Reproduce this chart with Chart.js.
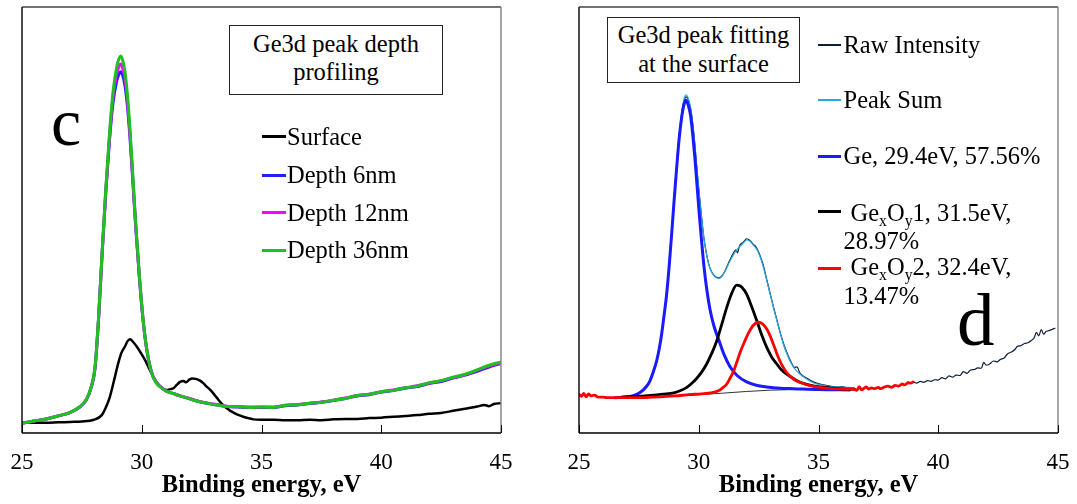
<!DOCTYPE html>
<html>
<head>
<meta charset="utf-8">
<script src="https://cdn.jsdelivr.net/npm/chart.js@4.4.1/dist/chart.umd.min.js"></script>
<style>
  html, body { margin:0; padding:0; background:#fff; }
  #wrap { position:relative; width:1077px; height:504px; overflow:hidden; background:#fff; }
  canvas { position:absolute; top:0; }
  .t { position:absolute; font-family:"Liberation Serif","Times New Roman",serif; color:#000; line-height:1; white-space:nowrap; }
  .box { position:absolute; border:1px solid #222; box-sizing:border-box; background:#fff; }
  .sw { position:absolute; height:0; }
  .sb { font-size:0.64em; position:relative; top:0.32em; }
</style>
</head>
<body>
<div id="wrap">
  <canvas id="cL" width="540" height="504" style="left:0px;width:540px;height:504px"></canvas>
  <canvas id="cR" width="537" height="504" style="left:540px;width:537px;height:504px"></canvas>
</div>
<script>
// ---------------- DATA ----------------
const X_TICKS = [25, 30, 35, 40, 45];

// Panel c: depth profiling
const E_DEPTH = [25.0,25.5,26.0,26.5,27.0,27.4,27.7,27.9,28.05,28.2,28.35,28.5,28.65,28.8,28.95,29.05,29.12,29.2,29.3,29.4,29.5,29.6,29.75,29.9,30.05,30.2,30.4,30.6,30.8,31.0,31.3,31.6,32.0,32.5,33.0,33.5,34.0,34.5,35.0,35.5,36.0,36.5,37.0,37.5,38.0,38.5,39.0,39.5,40.0,40.5,41.0,41.5,42.0,42.5,43.0,43.5,44.0,44.5,45.0];
const DEPTH_36 = [2.3,2.8,3.3,4.0,4.8,6.1,8.0,11.0,15.5,27.5,43.0,57.5,70.0,80.0,85.8,87.9,88.5,87.6,84.8,79.5,72.0,63.0,49.0,37.0,27.0,20.0,14.3,11.8,10.7,9.9,9.3,8.7,8.0,7.2,6.7,6.3,6.2,6.0,6.1,6.0,6.5,6.6,7.0,7.2,7.7,8.1,8.8,9.1,9.7,10.0,10.6,11.0,11.8,12.3,13.1,13.8,14.8,15.9,16.7];
const DEPTH_12 = [2.3,2.8,3.3,4.0,4.8,6.1,8.0,11.0,15.4,27.2,42.7,57.0,69.2,79.0,84.2,86.1,86.6,85.8,83.2,78.2,71.0,62.3,48.6,36.8,26.9,20.0,14.4,11.9,10.8,9.9,9.3,8.7,8.1,7.3,6.8,6.3,6.2,6.1,6.1,6.1,6.5,6.7,7.0,7.3,7.7,8.2,8.8,9.1,9.7,10.1,10.6,11.1,11.7,12.3,13.0,13.7,14.7,15.7,16.5];
const DEPTH_6  = [2.3,2.8,3.3,4.0,4.8,6.0,7.9,10.9,15.2,27.0,42.5,56.5,68.5,77.5,82.5,84.3,84.8,84.0,81.5,76.8,70.0,61.5,48.2,36.6,26.8,19.9,14.4,11.9,10.8,9.9,9.3,8.7,8.0,7.2,6.7,6.3,6.1,6.0,6.0,6.0,6.4,6.6,6.9,7.2,7.6,8.1,8.7,9.0,9.6,10.0,10.5,10.9,11.6,12.1,12.9,13.6,14.5,15.5,16.3];
const E_SURF = [25.0,25.5,26.0,26.5,27.0,27.5,28.0,28.33,28.5,28.67,28.85,29.02,29.15,29.3,29.4,29.51,29.65,29.79,29.95,30.14,30.3,30.48,30.62,30.76,30.9,31.04,31.2,31.32,31.46,31.6,31.75,31.85,32.0,32.12,32.25,32.43,32.57,32.71,32.85,32.99,33.13,33.27,33.41,33.55,33.7,33.83,34.0,34.24,34.45,34.66,35.0,35.5,36.0,36.5,37.0,37.5,38.0,38.5,39.0,39.5,40.0,40.5,41.0,41.5,42.0,42.5,43.0,43.5,44.0,44.3,44.5,44.7,45.0];
const SURFACE = [2.4,2.4,2.4,2.5,2.6,2.7,3.1,4.2,6.0,8.5,12.5,16.4,18.8,20.3,21.5,22.0,21.3,20.3,18.9,17.1,15.2,13.2,11.9,10.9,10.3,10.1,10.3,10.5,11.3,12.0,12.2,11.9,12.6,12.8,12.7,12.3,11.7,10.9,10.2,9.3,8.3,7.3,6.5,5.8,5.2,4.8,4.3,3.8,3.5,3.2,3.1,3.1,3.0,3.0,3.1,3.0,3.2,3.3,3.3,3.5,3.6,3.8,4.0,4.2,4.5,4.7,5.2,5.7,6.2,6.6,6.3,6.8,7.0];

// Panel d: peak fitting at the surface
const E_RAW = [25.0,25.1,25.2,25.3,25.4,25.5,25.65,25.8,26.0,26.2,26.4,26.6,26.8,27.0,27.3,27.55,27.8,27.96,28.1,28.24,28.35,28.45,28.55,28.66,28.77,28.87,28.97,29.08,29.18,29.29,29.38,29.47,29.56,29.66,29.75,29.84,29.93,30.02,30.12,30.22,30.34,30.47,30.64,30.82,30.96,31.1,31.3,31.45,31.55,31.62,31.7,31.86,32.0,32.14,32.28,32.4,32.49,32.6,32.7,32.84,32.98,33.12,33.26,33.4,33.53,33.67,33.81,34.0,34.1,34.23,34.5,34.78,35.1,35.48,35.8,36.0,36.18,36.4,36.5,36.6,36.7,36.8,36.9,37.0,37.1,37.2,37.35,37.5,37.6,37.75,37.9,38.05,38.2,38.35,38.5,38.6,38.75,38.85,38.95,39.1,39.25,39.4,39.55,39.7,39.85,40.0,40.15,40.3,40.45,40.6,40.75,40.9,41.05,41.2,41.35,41.5,41.65,41.8,41.9,42.0,42.15,42.3,42.45,42.6,42.75,42.9,43.05,43.2,43.3,43.45,43.6,43.75,43.9,44.0,44.1,44.2,44.3,44.4,44.5,44.6,44.75,44.87];
const RAW = [9.1,8.6,9.3,8.5,9.2,8.7,8.9,8.4,8.4,8.1,8.3,8.3,8.4,8.5,8.9,9.6,11.0,12.4,14.5,17.0,19.9,23.3,27.7,32.9,39.8,47.1,55.0,63.1,69.8,75.0,77.9,78.9,78.3,76.2,72.6,67.6,61.6,56.2,50.6,45.6,41.6,38.7,37.0,36.4,36.8,38.1,40.6,42.3,43.0,42.3,43.9,44.8,45.6,45.2,44.3,43.6,42.6,41.0,39.3,36.0,32.8,29.6,26.6,23.6,21.2,19.0,17.2,15.4,15.5,14.0,12.9,12.0,11.4,11.0,10.8,10.9,10.6,10.5,10.3,10.0,10.9,10.1,10.5,10.8,10.3,10.6,10.4,10.7,10.4,10.8,11.0,10.7,11.2,11.0,11.5,11.3,11.8,11.7,12.0,11.7,12.1,11.9,12.3,12.1,12.5,12.4,13.0,12.7,13.4,13.1,13.6,13.5,14.4,14.0,14.8,14.9,15.3,15.2,16.6,15.9,16.2,16.9,16.7,17.3,17.6,18.6,19.0,19.6,20.3,20.5,21.0,21.2,21.8,22.3,23.6,22.8,24.3,23.2,23.8,24.0,24.3,24.6];
const E_SUM = [26.5,27.0,27.3,27.55,27.8,27.96,28.1,28.24,28.35,28.45,28.55,28.66,28.77,28.87,28.97,29.08,29.18,29.29,29.38,29.47,29.56,29.66,29.75,29.84,29.93,30.02,30.12,30.22,30.34,30.47,30.64,30.82,30.96,31.1,31.3,31.45,31.58,31.72,31.86,32.0,32.14,32.28,32.4,32.49,32.6,32.7,32.84,32.98,33.12,33.26,33.4,33.53,33.67,33.81,34.0,34.23,34.5,34.78,35.1,35.48,35.8,36.18,36.5];
const PEAK_SUM = [8.3,8.5,8.9,9.6,11.0,12.4,14.5,17.1,20.0,23.4,27.8,33.0,40.0,47.3,55.2,63.3,70.0,75.3,78.3,79.4,78.6,76.2,72.5,67.5,61.5,56.0,50.5,45.5,41.5,38.6,36.9,36.3,36.7,38.0,40.3,41.8,42.9,43.8,44.6,45.3,45.0,44.1,43.3,42.4,40.8,38.9,35.8,32.6,29.4,26.4,23.5,20.9,18.7,16.9,15.1,13.8,12.7,11.8,11.3,10.9,10.8,10.7,10.6];
const E_GE = [26.5,27.0,27.3,27.55,27.8,27.96,28.1,28.24,28.35,28.45,28.55,28.66,28.77,28.87,28.97,29.08,29.18,29.29,29.38,29.47,29.56,29.66,29.75,29.84,29.93,30.02,30.12,30.22,30.34,30.47,30.64,30.86,31.05,31.3,31.6,32.0,32.4,32.84,33.4,33.95,35.0,36.3];
const GE_FIT = [8.3,8.4,8.8,9.5,10.8,12.2,14.3,16.9,19.8,23.2,27.5,32.6,39.5,46.8,54.5,62.4,69.0,74.2,77.0,78.1,77.0,74.5,70.0,64.5,58.0,51.5,45.0,39.0,33.5,29.0,25.0,21.5,18.5,15.6,13.5,12.0,11.2,10.8,10.5,10.4,10.2,10.1];
const E_OX1 = [26.8,27.5,28.0,28.5,29.0,29.22,29.5,29.7,29.91,30.12,30.33,30.55,30.75,30.96,31.17,31.37,31.58,31.7,31.8,32.0,32.2,32.42,32.63,32.84,33.05,33.26,33.46,33.67,34.0,34.23,34.6,35.06,35.6,36.18,36.5];
const OX1_FIT = [8.5,8.6,8.8,9.1,9.5,9.9,10.7,11.6,12.8,14.3,16.2,18.8,21.6,25.5,29.5,32.7,34.7,34.6,34.2,32.6,29.8,26.4,23.0,20.1,17.8,16.2,14.8,13.8,12.6,11.9,11.3,10.8,10.5,10.3,10.3];
const E_OX2 = [25.0,25.1,25.2,25.3,25.4,25.5,25.65,25.8,26.0,26.22,27.0,27.62,28.3,29.0,29.6,30.12,30.5,30.82,31.0,31.17,31.3,31.44,31.58,31.72,31.9,32.07,32.28,32.49,32.66,32.84,32.98,33.11,33.25,33.39,33.53,33.67,33.88,34.09,34.37,34.65,35.06,35.48,36.0,36.45,36.6,36.7,36.8,36.9,37.0,37.1,37.2,37.35,37.5,37.6,37.75,37.9,38.05,38.2,38.35,38.5,38.6,38.75,38.85,38.95];
const OX2_FIT = [9.1,8.6,9.3,8.5,9.2,8.7,8.9,8.4,8.4,8.3,8.3,8.3,8.5,8.7,9.0,9.2,9.4,9.9,10.6,11.5,12.8,14.3,16.5,18.8,21.3,23.4,25.3,26.0,25.6,24.4,22.8,20.9,18.8,16.9,15.4,14.2,13.0,12.2,11.6,11.1,10.7,10.4,10.3,10.3,10.0,10.9,10.1,10.5,10.8,10.3,10.6,10.4,10.7,10.4,10.8,11.0,10.7,11.2,11.0,11.5,11.3,11.8,11.7,12.0];
const E_BG = [26.1,27.0,28.0,29.0,30.0,31.0,32.0,33.0,34.0,35.0,36.5];
const BACKGROUND = [8.2,8.3,8.45,8.7,9.0,9.35,9.75,10.05,10.2,10.25,10.3];

// ---------------- HELPERS ----------------
const pts = (xs, ys) => xs.map((x, i) => ({ x, y: ys[i] }));
const SERIF = "'Liberation Serif','Times New Roman',serif";

const framePlugin = {
  id: 'frame',
  afterDatasetsDraw(chart) {
    const { ctx, chartArea: a, scales } = chart;
    ctx.save();
    ctx.lineWidth = 1.5;
    ctx.strokeStyle = '#444';
    ctx.beginPath(); ctx.moveTo(a.left, a.top); ctx.lineTo(a.right, a.top); ctx.stroke();
    ctx.strokeStyle = '#888';
    ctx.beginPath(); ctx.moveTo(a.right, a.top); ctx.lineTo(a.right, a.bottom); ctx.stroke();
    ctx.strokeStyle = '#111';
    ctx.beginPath(); ctx.moveTo(a.left, a.top); ctx.lineTo(a.left, a.bottom); ctx.stroke();
    ctx.strokeStyle = '#000';
    ctx.beginPath(); ctx.moveTo(a.left, a.bottom); ctx.lineTo(a.right, a.bottom); ctx.stroke();
    ctx.lineWidth = 1;
    X_TICKS.forEach(v => {
      const px = Math.round(scales.x.getPixelForValue(v)) + 0.5;
      ctx.beginPath(); ctx.moveTo(px, a.bottom); ctx.lineTo(px, a.bottom - 8); ctx.stroke();
    });
    ctx.restore();
  }
};

function makeChart(id, datasets, padding) {
  return new Chart(document.getElementById(id), {
    type: 'line',
    data: { datasets },
    options: {
      animation: false, responsive: false, devicePixelRatio: 1, events: [],
      layout: { padding },
      plugins: { legend: { display: false }, tooltip: { enabled: false } },
      elements: { point: { radius: 0 }, line: { cubicInterpolationMode: 'monotone', borderCapStyle: 'round', borderJoinStyle: 'round' } },
      scales: {
        x: {
          type: 'linear', min: 25, max: 45,
          afterBuildTicks: s => { s.ticks = X_TICKS.map(v => ({ value: v })); },
          ticks: { font: { family: SERIF, size: 23 }, color: '#000', padding: 16.5, maxRotation: 0, autoSkip: false },
          grid: { display: false, drawTicks: false },
          border: { display: false },
          title: { display: true, text: 'Binding energy, eV', color: '#000',
                   font: { family: SERIF, size: 24.5, weight: 'bold' }, padding: { top: 0, bottom: 4 } },
          afterFit: s => { s.height = 71; s.paddingLeft = 0; s.paddingRight = 0; }
        },
        y: { display: false, min: 0, max: 100 }
      }
    },
    plugins: [framePlugin]
  });
}

// ---------------- CHARTS ----------------
makeChart('cL', [
  { label: 'Depth 36nm', data: pts(E_DEPTH, DEPTH_36), borderColor: '#1ec21e', borderWidth: 3, order: 1 },
  { label: 'Depth 12nm', data: pts(E_DEPTH, DEPTH_12), borderColor: '#ff00ff', borderWidth: 3, order: 2 },
  { label: 'Depth 6nm',  data: pts(E_DEPTH, DEPTH_6),  borderColor: '#2020ff', borderWidth: 3, order: 3 },
  { label: 'Surface',    data: pts(E_SURF, SURFACE),   borderColor: '#000000', borderWidth: 2.5, order: 4 }
], { left: 22, top: 7, right: 39, bottom: 0 });

makeChart('cR', [
  { label: 'GexOy2', data: pts(E_OX2, OX2_FIT), borderColor: '#ff0000', borderWidth: 2.8, order: 1 },
  { label: 'GexOy1', data: pts(E_OX1, OX1_FIT), borderColor: '#000000', borderWidth: 2.8, order: 2 },
  { label: 'Ge', data: pts(E_GE, GE_FIT), borderColor: '#1a1aff', borderWidth: 3, order: 3 },
  { label: 'Peak Sum', data: pts(E_SUM, PEAK_SUM), borderColor: '#2aa7e1', borderWidth: 1.2, order: 4 },
  { label: 'Raw Intensity', data: pts(E_RAW, RAW), borderColor: '#0b1f3a', borderWidth: 1.2, order: 5 },
  { label: 'Background', data: pts(E_BG, BACKGROUND), borderColor: '#000000', borderWidth: 0.8, order: 6 }
], { left: 39, top: 7, right: 19, bottom: 0 });

// ---------------- ANNOTATIONS (HTML text) ----------------
const wrap = document.getElementById('wrap');
function text(x, baseline, html, size, opts = {}) {
  const d = document.createElement('div');
  d.className = 't';
  d.style.fontSize = size + 'px';
  d.style.top = (baseline - 0.8375 * size) + 'px';
  if (opts.center) { d.style.left = x + 'px'; d.style.transform = 'translateX(-50%)'; }
  else d.style.left = x + 'px';
  if (opts.bold) d.style.fontWeight = 'bold';
  d.innerHTML = html;
  wrap.appendChild(d);
}
function box(x1, y1, x2, y2) {
  const b = document.createElement('div');
  b.className = 'box';
  Object.assign(b.style, { left: x1 + 'px', top: y1 + 'px', width: (x2 - x1) + 'px', height: (y2 - y1) + 'px' });
  wrap.appendChild(b);
}
function swatch(x1, x2, y, color, w) {
  const s = document.createElement('div');
  s.className = 'sw';
  Object.assign(s.style, { left: x1 + 'px', top: (y - w / 2) + 'px', width: (x2 - x1) + 'px', height: w + 'px', background: color });
  wrap.appendChild(s);
}

// panel c
box(229, 25, 443, 95);
text(336, 52.5, 'Ge3d peak depth', 24.5, { center: true });
text(336, 80.5, 'profiling', 24.5, { center: true });
text(51, 145, 'c', 68);
const legL = [['Surface', '#000000', 136.7], ['Depth 6nm', '#2020ff', 175], ['Depth 12nm', '#ff00ff', 212.7], ['Depth 36nm', '#1ec21e', 250]];
legL.forEach(([t, c, y]) => { swatch(262, 286, y, c, 3); text(287, y + 8.5, t, 24.5); });

// panel d
box(607, 17, 800, 83);
text(703.5, 44, 'Ge3d peak fitting', 24.5, { center: true });
text(703.5, 72.3, 'at the surface', 24.5, { center: true });
text(957, 345, 'd', 75);
swatch(818, 841, 45, '#0b1f3a', 1.2);  text(843.5, 54, 'Raw Intensity', 24.5);
swatch(818, 841, 100, '#2aa7e1', 1.2); text(843.5, 109, 'Peak Sum', 24.5);
swatch(818, 841, 156, '#1a1aff', 3);   text(843.5, 165, 'Ge, 29.4eV, 57.56%', 24.5);
swatch(818, 841, 211.7, '#000000', 3); text(850.5, 221.5, 'Ge<span class="sb">x</span>O<span class="sb">y</span>1, 31.5eV,', 24.5);
text(843.5, 249.3, '28.97%', 24.5);
swatch(818, 841, 268.3, '#ff0000', 3); text(850.5, 275.5, 'Ge<span class="sb">x</span>O<span class="sb">y</span>2, 32.4eV,', 24.5);
text(843.5, 305, '13.47%', 24.5);
</script>
</body>
</html>
